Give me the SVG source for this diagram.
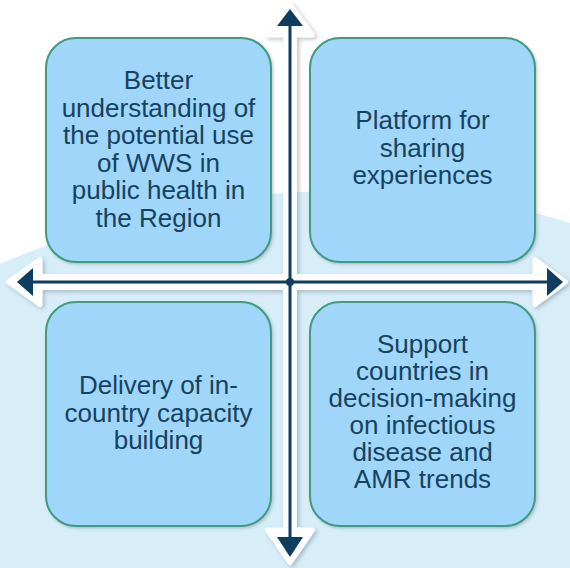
<svg xmlns="http://www.w3.org/2000/svg" width="570" height="568" viewBox="0 0 570 568">
<defs>
<style>
.box{fill:#a0d6f9;stroke:#3f9b80;stroke-width:2}
.lbl{font-family:"Liberation Sans",Arial,sans-serif;font-size:26px;fill:#16425f;text-anchor:middle}
.navy{fill:#0f3d5f}
.nline{stroke:#0f3d5f;stroke-width:3;fill:none}
.white{fill:#ffffff;stroke:#ffffff;stroke-width:5;stroke-linejoin:round}
</style>
<filter id="sh" x="-10%" y="-10%" width="120%" height="120%">
<feDropShadow dx="2" dy="2" stdDeviation="2" flood-color="#6a7f8c" flood-opacity="0.45"/>
</filter>
<filter id="bsh" x="-10%" y="-10%" width="120%" height="120%">
<feDropShadow dx="1.5" dy="1.5" stdDeviation="1.5" flood-color="#5a6f7c" flood-opacity="0.35"/>
</filter>
</defs>
<rect x="0" y="0" width="570" height="568" fill="#ffffff"/>
<path d="M0,264 Q150,200 300,192 Q450,184 570,223 L570,568 L0,568 Z" fill="#d7eef9"/>

<g id="node-understanding">
<rect class="box" x="46" y="38" width="225" height="224" rx="30" filter="url(#bsh)"/>
<text class="lbl"><tspan x="158.5" y="89">Better</tspan><tspan x="158.5" y="116.5">understanding of</tspan><tspan x="158.5" y="144">the potential use</tspan><tspan x="158.5" y="171.5">of WWS in</tspan><tspan x="158.5" y="199">public health in</tspan><tspan x="158.5" y="226.5">the Region</tspan></text>
</g>
<g id="node-platform">
<rect class="box" x="310" y="38" width="225" height="224" rx="30" filter="url(#bsh)"/>
<text class="lbl"><tspan x="422.5" y="129">Platform for</tspan><tspan x="422.5" y="156.5">sharing</tspan><tspan x="422.5" y="184">experiences</tspan></text>
</g>
<g id="node-capacity">
<rect class="box" x="46" y="302" width="225" height="224" rx="30" filter="url(#bsh)"/>
<text class="lbl"><tspan x="158.5" y="394">Delivery of in-</tspan><tspan x="158.5" y="421.5">country capacity</tspan><tspan x="158.5" y="449">building</tspan></text>
</g>
<g id="node-support">
<rect class="box" x="310" y="302" width="225" height="224" rx="30" filter="url(#bsh)"/>
<text class="lbl"><tspan x="422.5" y="352.5">Support</tspan><tspan x="422.5" y="379.5">countries in</tspan><tspan x="422.5" y="406.7">decision-making</tspan><tspan x="422.5" y="434">on infectious</tspan><tspan x="422.5" y="461">disease and</tspan><tspan x="422.5" y="488.3">AMR trends</tspan></text>
</g>

<g id="connectors">
<g filter="url(#sh)">
<path class="white" d="M267.5,35 L290,4.5 L312.5,35 Z"/>
<rect class="white" x="285.5" y="33" width="9" height="499"/>
<path class="white" d="M267.5,530 L312.5,530 L290,562.5 Z"/>
<path class="white" d="M40,259.5 L8.5,282 L40,304.5 Z"/>
<path class="white" d="M535,259.5 L565.5,282 L535,304.5 Z"/>
<rect class="white" x="38" y="276.5" width="499" height="11"/>
</g>
<line class="nline" x1="290" y1="22" x2="290" y2="540"/>
<line class="nline" x1="28" y1="282" x2="552" y2="282"/>
<polygon class="navy" points="277,26 290,9 303,26"/>
<polygon class="navy" points="277,537 290,557 303,537"/>
<polygon class="navy" points="33,268 17,282 33,296"/>
<polygon class="navy" points="547,268 563,282 547,296"/>
<circle class="navy" cx="290" cy="282" r="4"/>
</g>
</svg>
